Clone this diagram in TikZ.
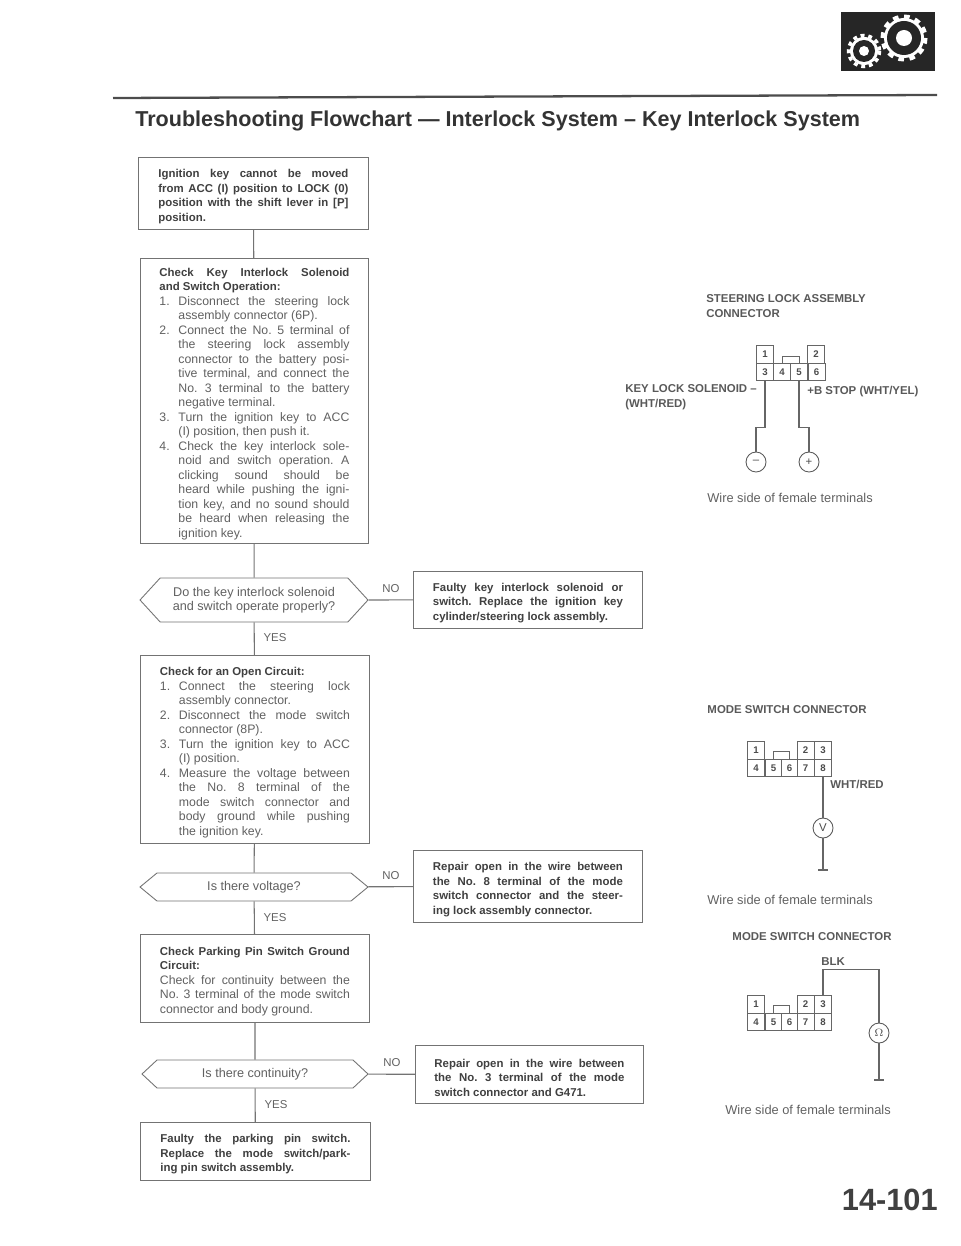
\documentclass[tikz,border=0pt]{standalone}
\usepackage{fontspec}
\setmainfont{Liberation Sans}
\usetikzlibrary{shapes.symbols}
\definecolor{inkgray}{gray}{0.38}
\definecolor{linegray}{gray}{0.45}
\newdimen\px \px=0.02cm
% text lines of a box, justified by hand
\newcommand{\js}{\spaceskip=.278em plus 1em minus .05em\xspaceskip=\spaceskip\relax}
\newcommand{\fl}[1]{\par\noindent\hbox to \linewidth{\js #1}\par}
\newcommand{\il}[1]{\par\noindent\hbox to \linewidth{\js\kern19\px\relax #1}\par}
\newcommand{\nl}[2]{\par\noindent\hbox to \linewidth{\js\hbox to 19\px{#1\hfil}#2}\par}
\newcommand{\hd}[1]{{\fontsize{6.5}{8.25}\selectfont\bfseries\color{black!75}#1}}
\tikzset{box/.style={draw=linegray, line width=0.5pt, fill=white, inner sep=0pt, text width=190\px, anchor=north west, font=\fontsize{7}{8.25}\selectfont, text=inkgray}}
\tikzset{bld/.style={box, font=\fontsize{6.5}{8.25}\selectfont\bfseries, text=black!75}}
\tikzset{ques/.style={signal, signal from=nowhere, signal to=west and east, draw=linegray, line width=0.5pt, fill=white, inner sep=0pt, align=center, font=\fontsize{7.2}{8.25}\selectfont, text=inkgray}}
\tikzset{lbl/.style={font=\fontsize{6.5}{8}\selectfont, text=inkgray, inner sep=0pt}}
\tikzset{capt/.style={font=\fontsize{6.5}{8.4}\selectfont\bfseries, text=black!65, inner sep=0pt, align=left}}
\tikzset{note/.style={font=\fontsize{7.3}{8}\selectfont, text=inkgray, inner sep=0pt}}
\tikzset{con/.style={draw=linegray, line width=0.6pt}}
\tikzset{pinbox/.style={draw=black!60, line width=0.5pt, fill=white, minimum width=17\px, minimum height=17.5\px, inner sep=0pt, font=\fontsize{5.5}{6}\selectfont\bfseries, text=black!70}}
\tikzset{mtr/.style={circle, draw=black!65, line width=0.5pt, fill=white, minimum size=20\px, inner sep=0pt, font=\fontsize{6.5}{7}\selectfont, text=black!70}}
\tikzset{wire/.style={draw=black!60, line width=0.7pt}}
\begin{document}
\begin{tikzpicture}[x=0.02cm,y=-0.02cm]
\useasboundingbox (0,0) rectangle (960,1246);
% header
\draw[black!70, line width=1.3pt] (113,98)--(937,95);
\node[anchor=west, inner sep=0pt, font=\fontsize{12.27}{14}\selectfont\bfseries, text=black!80] (title) at (135,121) {Troubleshooting Flowchart — Interlock System – Key Interlock System};
\node[anchor=north west, fill=black!85, minimum width=94\px, minimum height=59\px, inner sep=0pt] (icon) at (841,12) {};
\foreach \a/\b/\r/\h/\w/\o in {904/38/20/8/4/3.2, 864/51/14/5/3.5/2.2}{
\fill[white] (\a,\b) circle (\r);
\draw[white, line width=\w\px, dash pattern=on \o pt off \o pt] (\a,\b) circle (\r+1.5);
\fill[black!85] (\a,\b) circle (\r-3);
\fill[white] (\a,\b) circle (\h);
}
\node[anchor=east, inner sep=0pt, font=\fontsize{17.5}{20}\selectfont\bfseries, text=black!75] (page) at (938,1200) {14-101};
% flowchart boxes
\node[bld, minimum width=230\px, minimum height=72\px] (b1) at (138,157) {\fl{Ignition key cannot be moved}\fl{from ACC (I) position to LOCK (0)}\fl{position with the shift lever in [P]}\fl{position.\hfil}};
\node[box, minimum width=228\px, minimum height=285\px] (b2) at (140,258) {\hd{\fl{Check Key Interlock Solenoid}\fl{and Switch Operation:\hfil}}
\nl{1.}{Disconnect the steering lock}\il{assembly connector (6P).\hfil}
\nl{2.}{Connect the No. 5 terminal of}\il{the steering lock assembly}\il{connector to the battery posi-}\il{tive terminal, and connect the}\il{No. 3 terminal to the battery}\il{negative terminal.\hfil}
\nl{3.}{Turn the ignition key to ACC}\il{(I) position, then push it.\hfil}
\nl{4.}{Check the key interlock sole-}\il{noid and switch operation. A}\il{clicking sound should be}\il{heard while pushing the igni-}\il{tion key, and no sound should}\il{be heard when releasing the}\il{ignition key.\hfil}};
\node[bld, minimum width=229\px, minimum height=57\px] (f1) at (413,571) {\fl{Faulty key interlock solenoid or}\fl{switch. Replace the ignition key}\fl{cylinder/steering lock assembly.\hfil}};
\node[box, minimum width=229\px, minimum height=188\px] (b3) at (140,655) {\hd{\fl{Check for an Open Circuit:\hfil}}
\nl{1.}{Connect the steering lock}\il{assembly connector.\hfil}
\nl{2.}{Disconnect the mode switch}\il{connector (8P).\hfil}
\nl{3.}{Turn the ignition key to ACC}\il{(I) position.\hfil}
\nl{4.}{Measure the voltage between}\il{the No. 8 terminal of the}\il{mode switch connector and}\il{body ground while pushing}\il{the ignition key.\hfil}};
\node[bld, minimum width=229\px, minimum height=72\px] (f2) at (413,850) {\fl{Repair open in the wire between}\fl{the No. 8 terminal of the mode}\fl{switch connector and the steer-}\fl{ing lock assembly connector.\hfil}};
\node[box, minimum width=229\px, minimum height=88\px] (b4) at (140,934) {\hd{\fl{Check Parking Pin Switch Ground}\fl{Circuit:\hfil}}\fl{Check for continuity between the}\fl{No. 3 terminal of the mode switch}\fl{connector and body ground.\hfil}};
\node[bld, minimum width=228\px, minimum height=58\px] (f3) at (415,1045) {\fl{Repair open in the wire between}\fl{the No. 3 terminal of the mode}\fl{switch connector and G471.\hfil}};
\node[bld, minimum width=230\px, minimum height=58\px] (b5) at (140,1122) {\fl{Faulty the parking pin switch.}\fl{Replace the mode switch/park-}\fl{ing pin switch assembly.\hfil}};
% question hexagons
\node[ques, minimum width=228\px, minimum height=44\px, signal pointer angle=95] (q1) at (254,600) {Do the key interlock solenoid\\and switch operate properly?};
\node[ques, minimum width=228\px, minimum height=28\px, signal pointer angle=79] (q2) at (254,887) {Is there voltage?};
\node[ques, minimum width=226\px, minimum height=28\px, signal pointer angle=86] (q3) at (255,1074) {Is there continuity?};
% flow lines
\foreach \x/\y in {b1/b2,b2/q1,q1/b3,b3/q2,q2/b4,b4/q3,q3/b5,q1/f1,q2/f2,q3/f3}{
\draw[con] (\x)--(\y);
}
\node[lbl] (no1) at (391,589) {NO};
\node[lbl] (no2) at (391,876) {NO};
\node[lbl] (no3) at (392,1063) {NO};
\node[lbl] (yes1) at (275,638) {YES};
\node[lbl] (yes2) at (275,918) {YES};
\node[lbl] (yes3) at (276,1105) {YES};
% steering lock connector
\node[capt, anchor=west] (s0) at (706,306) {STEERING LOCK ASSEMBLY\\CONNECTOR};
\foreach \n/\a/\b in {1/765/354.5,2/816/354.5,3/765/372,4/782/372,5/799/372,6/816.5/372}{
\node[pinbox] (s\n) at (\a,\b) {\n};
}
\draw[draw=black!60, line width=0.5pt] (s4.north)--++(0,-6)-|(s5.north);
\node[capt, anchor=west] (s7) at (625,397) {KEY LOCK SOLENOID --\\(WHT/RED)};
\node[capt, anchor=west] (s8) at (807,392) {+B STOP (WHT/YEL)};
\node[mtr] (sm) at (756,462) {--};
\node[mtr] (sp) at (809,462) {+};
\draw[wire] (s3.south)--++(0,46)-|(sm.north);
\draw[wire] (s5.south)--++(0,46)-|(sp.north);
\node[note] (s9) at (790,498) {Wire side of female terminals};
% mode switch connector, voltage
\node[capt] (m0) at (787,710) {MODE SWITCH CONNECTOR};
\foreach \n/\a in {1/756,2/805.5,3/823}{
\node[pinbox] (m\n) at (\a,750.5) {\n};
}
\foreach \n/\a in {4/756,5/773.5,6/789.5,7/805.5,8/823}{
\node[pinbox] (m\n) at (\a,768) {\n};
}
\draw[draw=black!60, line width=0.5pt] (m5.north)--++(0,-7)-|(m6.north);
\node[capt, anchor=west] (m9) at (830,784) {WHT/RED};
\node[mtr] (mv) at (823,828) {V};
\coordinate (mg) at (823,870);
\coordinate (mg1) at (818,870);
\coordinate (mg2) at (828,870);
\draw[wire] (m8.south)--(mv.north);
\draw[wire] (mv.south)--(mg);
\draw[wire] (mg1)--(mg2);
\node[note] (m10) at (790,900) {Wire side of female terminals};
% mode switch connector, continuity
\node[capt] (c0) at (812,937) {MODE SWITCH CONNECTOR};
\foreach \n/\a in {1/756,2/805.5,3/823}{
\node[pinbox] (c\n) at (\a,1004.5) {\n};
}
\foreach \n/\a in {4/756,5/773.5,6/789.5,7/805.5,8/823}{
\node[pinbox] (c\n) at (\a,1022) {\n};
}
\draw[draw=black!60, line width=0.5pt] (c5.north)--++(0,-7)-|(c6.north);
\node[capt] (c9) at (833,962) {BLK};
\node[mtr] (co) at (879,1033) {$\Omega$};
\coordinate (cg) at (879,1080);
\coordinate (cg1) at (874,1080);
\coordinate (cg2) at (884,1080);
\draw[wire] (c3.north)--++(0,-26)-|(co.north);
\draw[wire] (co.south)--(cg);
\draw[wire] (cg1)--(cg2);
\node[note] (c10) at (808,1110) {Wire side of female terminals};
\end{tikzpicture}
\end{document}
